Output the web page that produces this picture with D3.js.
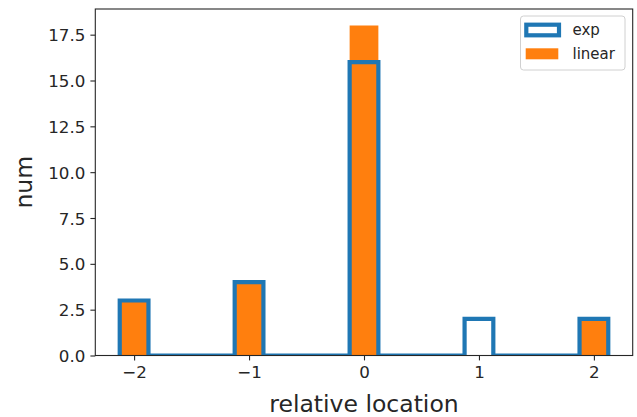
<!DOCTYPE html>
<html>
<head>
<meta charset="utf-8">
<script src="https://cdn.jsdelivr.net/npm/d3@7"></script>
<style>
  html, body { margin: 0; padding: 0; background: #fff; }
  svg { display: block; font-family: "DejaVu Sans", sans-serif; }
</style>
</head>
<body>
<svg id="chart" width="637" height="417"></svg>
<script>
// Histogram counts per relative location (bin width 0.25, centred on each integer)
const locations = [-2, -1, 0, 1, 2];
const expCounts = [3, 4, 16, 2, 2];
const linearCounts = [3, 4, 18, 0, 2];
const binWidth = 0.25;
const xTicks = [-2, -1, 0, 1, 2];
const yTicks = [0, 2.5, 5, 7.5, 10, 12.5, 15, 17.5];
const xDomain = [-2.3375, 2.3375];
const yDomain = [0, 18.9];

const svg = d3.select("#chart");
const plot = { left: 95.3, right: 632.7, top: 9, bottom: 355.5 };

const x = d3.scaleLinear().domain(xDomain).range([plot.left, plot.right]);
const y = d3.scaleLinear().domain(yDomain).range([plot.bottom, plot.top]);

const C0 = "#1f77b4", C1 = "#ff7f0e";

svg.append("defs").append("clipPath").attr("id", "plotClip")
  .append("rect")
  .attr("x", plot.left).attr("y", plot.top)
  .attr("width", plot.right - plot.left).attr("height", plot.bottom - plot.top);

const g = svg.append("g").attr("clip-path", "url(#plotClip)");

// filled bars for the "linear" series
g.selectAll("rect.linear")
  .data(locations.map((l, i) => ({ l, c: linearCounts[i] })).filter(d => d.c > 0))
  .join("rect")
  .attr("class", "linear")
  .attr("x", d => x(d.l - binWidth / 2))
  .attr("width", d => x(d.l + binWidth / 2) - x(d.l - binWidth / 2))
  .attr("y", d => y(d.c))
  .attr("height", d => y(0) - y(d.c))
  .attr("fill", C1);

// step outline for the "exp" series
const stepPts = [[locations[0] - binWidth / 2, 0]];
locations.forEach((l, i) => {
  const a = l - binWidth / 2, b = l + binWidth / 2;
  stepPts.push([a, 0], [a, expCounts[i]], [b, expCounts[i]], [b, 0]);
});
g.append("path")
  .attr("d", d3.line().x(p => x(p[0])).y(p => y(p[1]))(stepPts))
  .attr("fill", "none")
  .attr("stroke", C0)
  .attr("stroke-width", 4.2)
  .attr("stroke-linejoin", "miter");

// axes
const axisColor = "#262626";
const xAxis = svg.append("g")
  .attr("transform", `translate(0,${plot.bottom})`)
  .call(d3.axisBottom(x).tickValues(xTicks).tickSize(4.9).tickPadding(5)
    .tickFormat(d => d < 0 ? "\u2212" + Math.abs(d) : String(d)));
const yAxis = svg.append("g")
  .attr("transform", `translate(${plot.left},0)`)
  .call(d3.axisLeft(y).tickValues(yTicks).tickSize(4.9).tickPadding(5)
    .tickFormat(d3.format(".1f")));

[xAxis, yAxis].forEach(a => {
  a.select(".domain").remove();
  a.selectAll(".tick line").attr("stroke", axisColor).attr("stroke-width", 1.1);
  a.selectAll(".tick text").attr("fill", axisColor)
    .style("font-size", "16.7px").style("font-family", "DejaVu Sans, sans-serif");
});
yAxis.selectAll(".tick text").attr("dy", "0.36em");
xAxis.selectAll(".tick text").attr("dy", "0.76em");

// frame
svg.append("rect")
  .attr("x", plot.left).attr("y", plot.top)
  .attr("width", plot.right - plot.left).attr("height", plot.bottom - plot.top)
  .attr("fill", "none").attr("stroke", axisColor).attr("stroke-width", 1.1);

// axis titles
svg.append("text")
  .attr("x", (plot.left + plot.right) / 2).attr("y", 412)
  .attr("text-anchor", "middle")
  .attr("fill", axisColor)
  .style("font-size", "23.5px")
  .text("relative location");

svg.append("text")
  .attr("transform", `translate(32,${(plot.top + plot.bottom) / 2}) rotate(-90)`)
  .attr("text-anchor", "middle")
  .attr("fill", axisColor)
  .style("font-size", "23.5px")
  .text("num");

// legend
const leg = svg.append("g");
leg.append("rect")
  .attr("x", 520.5).attr("y", 16).attr("width", 104.5).attr("height", 54)
  .attr("rx", 3).attr("fill", "#fff").attr("fill-opacity", 0.8)
  .attr("stroke", "#d0d0d0").attr("stroke-width", 1);
leg.append("rect")
  .attr("x", 526.3).attr("y", 24.7).attr("width", 32.7).attr("height", 10.6)
  .attr("fill", "none").attr("stroke", C0).attr("stroke-width", 4.2);
leg.append("rect")
  .attr("x", 525.7).attr("y", 48.3).attr("width", 32.6).attr("height", 11)
  .attr("fill", C1);
leg.append("text").attr("x", 572.5).attr("y", 30).attr("dy", "0.36em")
  .attr("fill", axisColor).style("font-size", "15px").text("exp");
leg.append("text").attr("x", 572.5).attr("y", 54).attr("dy", "0.36em")
  .attr("fill", axisColor).style("font-size", "15px").text("linear");
</script>
</body>
</html>
